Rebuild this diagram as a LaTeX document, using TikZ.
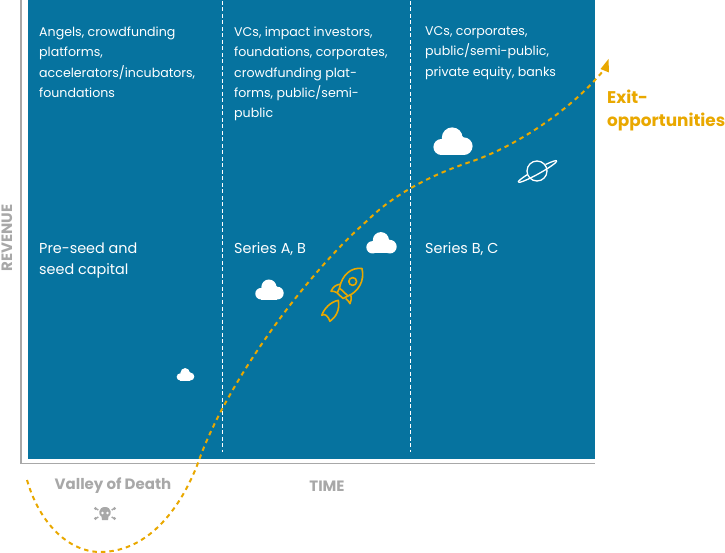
\documentclass[tikz,border=0pt]{standalone}
\usepackage{fontspec}
\setmainfont{Poppins}
\definecolor{teal}{HTML}{06739F}
\definecolor{gold}{HTML}{E9A800}
\definecolor{axisgrey}{HTML}{A8A8A8}
\tikzset{
  body/.style={text=white,font=\fontsize{12.6}{20.4}\selectfont,align=left,anchor=north west,inner sep=0pt},
  series/.style={text=white,font=\fontsize{14.4}{21.5}\selectfont,align=left,anchor=north west,inner sep=0pt},
  axislabel/.style={text=axisgrey,font=\fontsize{15}{16}\selectfont\bfseries,inner sep=0pt},
  divider/.style={white,line width=1pt,dash pattern=on 4pt off 2.5pt},
  growth/.style={gold,line width=2pt,dash pattern=on 4.5pt off 4pt},
  icon/.style={gold,line width=1.6pt,line join=round},
}
\newcommand{\cloudicon}[3]{% centre x, bottom y, width
  \begin{scope}[shift={(#1,#2)},x=#3pt,y=#3pt]
    \fill[white] (-0.29,0.2) circle (0.2);
    \fill[white] (0.27,0.22) circle (0.22);
    \fill[white] (-0.02,0.43) circle (0.26);
    \fill[white] (-0.29,0) rectangle (0.27,0.3);
    \fill[white] (-0.4,0.17) -- (-0.2,0.5) -- (0.2,0.5) -- (0.4,0.3) -- cycle;
  \end{scope}
}
\begin{document}
\begin{tikzpicture}[x=1pt,y=-1pt]
\useasboundingbox (0,0) rectangle (725,553);
\fill[teal] (28,0) rectangle (595,459);
\draw[axisgrey,line width=1.6pt] (21,0) -- (21,463.5) -- (595,463.5);
\coordinate (d1t) at (222,1); \coordinate (d1b) at (222,452);
\coordinate (d2t) at (410,1); \coordinate (d2b) at (410,452);
\draw[divider] (d1t) -- (d1b);
\draw[divider] (d2t) -- (d2b);

\node[body] (t1) at (39,26.5) {Angels, crowdfunding\\platforms,\\accelerators/incubators,\\foundations};
\node[body] (t2) at (234,26.5) {VCs, impact investors,\\foundations, corporates,\\crowdfunding plat-\\forms, public/semi-\\public};
\node[body] (t3) at (425,26.5) {VCs, corporates,\\public/semi-public,\\private equity, banks};
\node[series] (s1) at (39,242.5) {Pre-seed and\\seed capital};
\node[series] (s2) at (234,242.5) {Series A, B};
\node[series] (s3) at (425,242.5) {Series B, C};

\node[axislabel,rotate=90] (rev) at (7,238) {REVENUE};
\node[axislabel] (time) at (327,486) {TIME};
\node[axislabel] (valley) at (113,486) {Valley of Death};
\node[text=gold,font=\fontsize{16.9}{23}\selectfont\bfseries,align=left,anchor=north west,inner sep=0pt] (exit) at (607,90) {Exit-\\opportunities};

\coordinate (c0) at (27,480);
\coordinate (c1) at (100,552);
\coordinate (c2) at (198,463);
\coordinate (c3) at (368,220);
\coordinate (c4) at (470,162);
\coordinate (c5) at (603,71);
\draw[growth] (c0) .. controls (40,525) and (70,552) .. (c1)
  .. controls (150,552) and (182,505) .. (c2)
  .. controls (225,385) and (305,275) .. (c3)
  .. controls (392,196) and (428,176) .. (c4)
  .. controls (512,148) and (568,113) .. (c5);
\fill[gold] (608.5,59) -- (600.5,69) -- (609,72.5) -- cycle;

\cloudicon{453}{155}{40}
\cloudicon{381.5}{253.5}{31}
\cloudicon{269.5}{299.5}{29}
\cloudicon{185.5}{380.5}{18}

% rocket
\begin{scope}[icon]
  \draw (362,268.5) .. controls (351,267) and (342,275) .. (339.5,288)
     -- (348,296) .. controls (358,292) and (365,281) .. (362,268.5) -- cycle;
  \draw (352.7,281.5) circle (3.9);
  \draw (339.5,288) -- (337.2,293) -- (343,298.5) -- (348,296);
  \draw (340.5,284.2) .. controls (336,284.5) and (333,287) .. (331,291.3)
     .. controls (333,291) and (335,291.5) .. (337.2,292.7);
  \draw (350.5,294.5) .. controls (352,298) and (351,301) .. (350,303.7)
     .. controls (349,301.5) and (347.5,300) .. (345.7,298.5);
  \draw (338.3,300.3) .. controls (330,302) and (324,309) .. (321.7,315.3)
     .. controls (325,313) and (328,316) .. (330,321.3)
     .. controls (336,317) and (340,310) .. (338.3,300.3) -- cycle;
\end{scope}

% planet
\draw[white,line width=1.3pt] (537,171) circle (10);
\begin{scope}[shift={(537.5,171.5)},y=1pt,rotate=29,white,line width=1.3pt]
  \draw (-22,0) arc[start angle=180,end angle=360,x radius=22,y radius=2.5];
  \draw (22,0) arc[start angle=0,end angle=62,x radius=22,y radius=2.5];
  \draw (-22,0) arc[start angle=180,end angle=118,x radius=22,y radius=2.5];
\end{scope}

% skull and crossbones
\begin{scope}[shift={(105,513.5)}]
  \draw[axisgrey,line width=1.5pt] (-8.5,-4.5) -- (8.5,4.5) (-8.5,4.5) -- (8.5,-4.5);
  \fill[axisgrey] (-9.5,-5) circle (1.7) (9.5,-5) circle (1.7) (-9.5,5) circle (1.7) (9.5,5) circle (1.7);
  \fill[white] (0,0) circle (7.5);
  \fill[axisgrey] (0,-6.5) .. controls (-7,-6.5) and (-7,2) .. (-3.5,3) -- (-3,6.5) -- (3,6.5) -- (3.5,3) .. controls (7,2) and (7,-6.5) .. (0,-6.5) -- cycle;
  \fill[white] (-2.5,-0.5) circle (1.3) (2.5,-0.5) circle (1.3);
\end{scope}
\end{tikzpicture}
\end{document}
